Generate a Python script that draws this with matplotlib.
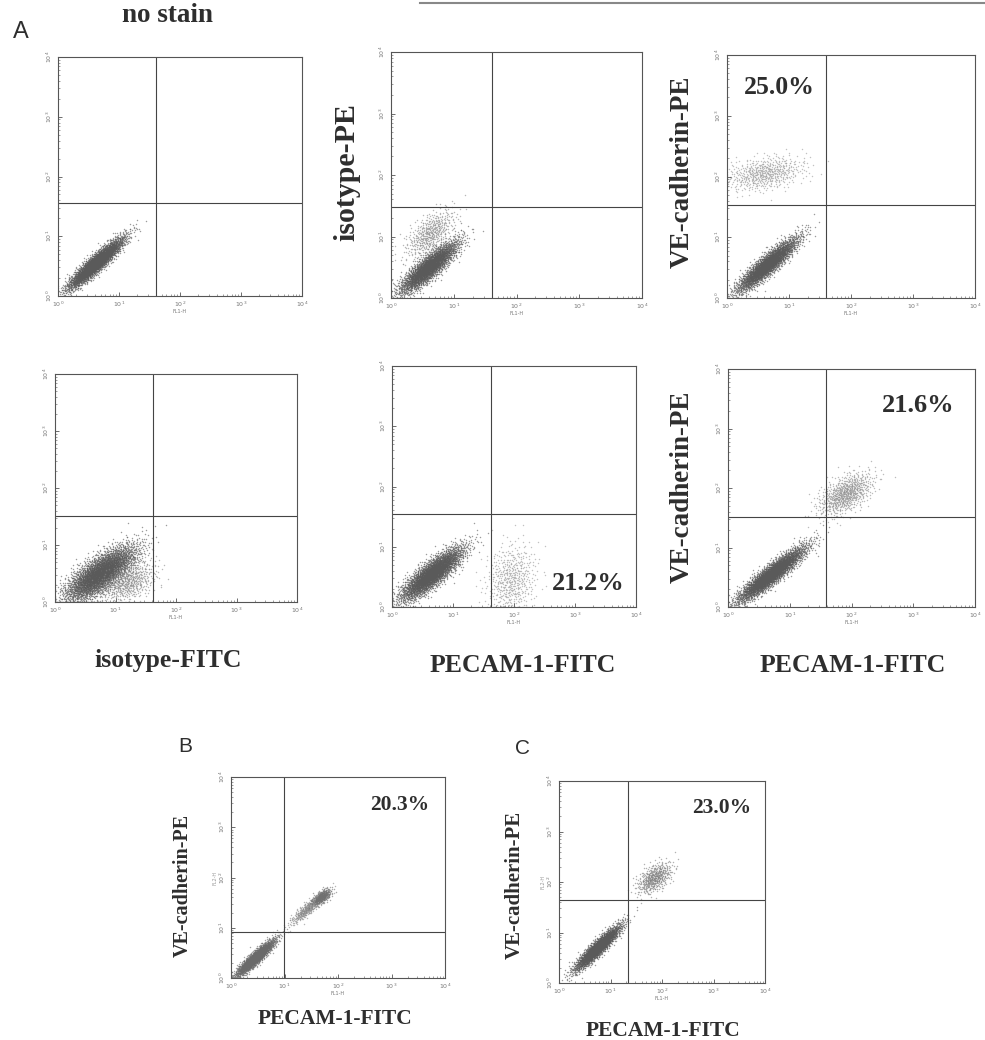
import numpy as np
import matplotlib
matplotlib.use("Agg")
from matplotlib import pyplot as plt

# panel boxes in pixels (left, top, right, bottom) of the 985x1040 figure
panel_names = ["nostain", "isoPE", "vePE", "isoFITC", "pecam", "both", "B", "C"]
panel_box = [(58, 57, 302, 296), (391, 52, 642, 298), (727, 55, 975, 298),
             (55, 374, 297, 602), (392, 366, 636, 607), (728, 369, 975, 607),
             (231, 777, 445, 978), (559, 781, 765, 983)]
# quadrant gates, in decades
gate_x = [1.61, 1.61, 1.60, 1.62, 1.62, 1.59, 0.99, 1.34]
gate_y = [1.56, 1.48, 1.53, 1.51, 1.54, 1.51, 0.92, 1.64]

# populations (decades): panel, centre, spread, tilt, events, shade
pop_panel = [0, 1, 1, 2, 2, 3, 3, 4, 4, 5, 5, 6, 6, 6, 7, 7]
pop_cx = [0.62, 0.60, 0.62, 0.65, 0.60, 0.75, 1.20, 0.65, 1.95, 0.70, 1.90, 0.45, 1.45, 1.70, 0.75, 1.85]
pop_cy = [0.55, 0.50, 1.05, 0.55, 2.05, 0.50, 0.35, 0.55, 0.45, 0.55, 1.90, 0.40, 1.40, 1.62, 0.70, 2.08]
pop_major = [0.30, 0.30, 0.25, 0.32, 0.32, 0.35, 0.25, 0.32, 0.30, 0.35, 0.25, 0.25, 0.22, 0.10, 0.30, 0.20]
pop_minor = [0.06, 0.08, 0.12, 0.07, 0.13, 0.13, 0.15, 0.09, 0.20, 0.07, 0.13, 0.05, 0.05, 0.05, 0.06, 0.11]
pop_angle = [43, 42, 45, 42, 10, 38, 30, 40, 80, 40, 35, 45, 43, 40, 45, 40]
pop_count = [3500, 3000, 500, 3000, 600, 4000, 600, 3500, 550, 3500, 800, 2200, 450, 350, 2600, 500]
pop_shade = ["#5a5a5a", "#5a5a5a", "#8a8a8a", "#5a5a5a", "#9a9a9a", "#5a5a5a", "#8a8a8a",
             "#5a5a5a", "#9a9a9a", "#5a5a5a", "#909090", "#6a6a6a", "#8a8a8a", "#707070",
             "#5a5a5a", "#808080"]

pct_text = ["", "", "25.0%", "", "21.2%", "21.6%", "20.3%", "23.0%"]
pct_pos = [None, None, (779, 87), None, (588, 583), (918, 405), (400, 805), (722, 808)]
pct_size = [0, 0, 18.5, 0, 19, 19, 15.5, 15.5]

ylab_text = ["", "isotype-PE", "VE-cadherin-PE", "", "", "VE-cadherin-PE", "VE-cadherin-PE", "VE-cadherin-PE"]
ylab_pos = [None, (347, 172), (682, 172), None, None, (682, 487), (183, 885), (515, 885)]
ylab_size = [0, 21.5, 19.5, 0, 0, 19.5, 14.5, 15]
xlab_text = ["isotype-FITC", "PECAM-1-FITC", "PECAM-1-FITC", "PECAM-1-FITC", "PECAM-1-FITC"]
xlab_pos = [(168, 660), (523, 665), (853, 665), (335, 1019), (663, 1031)]
xlab_size = [18.5, 18.5, 18.5, 15.5, 15.5]
letters = ["A", "B", "C"]
letter_pos = [(21, 32), (185, 747), (522, 748)]
letter_size = [17, 15, 15]

W, H = 985, 1040
serif = ["Liberation Serif", "DejaVu Serif"]
ink = "#2e2e2e"


def halton(n, base, start):
    out = np.zeros(n)
    for k in range(n):
        i = k + start + 1
        f = 1.0
        r = 0.0
        while i > 0:
            f /= base
            r += f * (i % base)
            i //= base
        out[k] = r
    return out


def cloud(cx, cy, major, minor, angle, n, start):
    u1 = halton(n, 2, start)
    u2 = halton(n, 3, start)
    rad = np.sqrt(-2 * np.log(np.clip(u1, 1e-9, 1)))
    a = rad * np.cos(2 * np.pi * u2) * major
    b = rad * np.sin(2 * np.pi * u2) * minor
    t = np.radians(angle)
    x = cx + a * np.cos(t) - b * np.sin(t)
    y = cy + a * np.sin(t) + b * np.cos(t)
    return np.clip(x, 0.0, 4.0), np.clip(y, 0.0, 4.0)


fig = plt.figure(figsize=(W / 100, H / 100), dpi=100)

axes = []
for p, (l, t, r, b) in enumerate(panel_box):
    ax = fig.add_axes([l / W, 1 - b / H, (r - l) / W, (b - t) / H])
    ax.set_xscale("log")
    ax.set_yscale("log")
    ax.set_xlim(1, 1e4)
    ax.set_ylim(1, 1e4)
    ax.set_xticks([1, 10, 100, 1000, 10000])
    ax.set_yticks([1, 10, 100, 1000, 10000])
    ax.set_xticklabels([r"$10^{%d}$" % k for k in range(5)])
    ax.set_yticklabels([r"$10^{%d}$" % k for k in range(5)], rotation=90, va="center")
    ax.tick_params(which="major", direction="in", length=3, width=0.6, labelsize=4.5,
                   labelcolor="#777777", color="#555555", pad=3)
    ax.tick_params(which="minor", direction="in", length=1.5, width=0.5, color="#777777")
    for s in ax.spines.values():
        s.set_linewidth(0.8)
        s.set_color("#555555")
    ax.set_xlabel("FL1-H", fontsize=3.5, color="#777777", labelpad=0)
    if p >= 6:
        ax.set_ylabel("FL2-H", fontsize=3.5, color="#999999", labelpad=0)
    ax.axvline(10 ** gate_x[p], color="#444444", lw=0.8)
    ax.axhline(10 ** gate_y[p], color="#444444", lw=0.8)
    axes.append(ax)

start = 0
for i in range(len(pop_panel)):
    x, y = cloud(pop_cx[i], pop_cy[i], pop_major[i], pop_minor[i], pop_angle[i],
                 pop_count[i], start)
    start += pop_count[i] + 37
    axes[pop_panel[i]].scatter(10 ** x, 10 ** y, s=1.1, c=pop_shade[i], linewidths=0,
                               alpha=0.6, zorder=1)

for p in range(len(panel_box)):
    if pct_text[p]:
        fig.text(pct_pos[p][0] / W, 1 - pct_pos[p][1] / H, pct_text[p], family=serif,
                 fontweight="bold", fontsize=pct_size[p], color=ink,
                 ha="center", va="center")
    if ylab_text[p]:
        fig.text(ylab_pos[p][0] / W, 1 - ylab_pos[p][1] / H, ylab_text[p], family=serif,
                 fontweight="bold", fontsize=ylab_size[p], color=ink, rotation=90,
                 ha="center", va="center")

for lbl, pos, fs in zip(xlab_text, xlab_pos, xlab_size):
    fig.text(pos[0] / W, 1 - pos[1] / H, lbl, family=serif, fontweight="bold",
             fontsize=fs, color=ink, ha="center", va="center")

fig.text(167 / W, 1 - 15 / H, "no stain", family=serif, fontweight="bold", fontsize=19.5,
         color=ink, ha="center", va="center")
for lbl, pos, fs in zip(letters, letter_pos, letter_size):
    fig.text(pos[0] / W, 1 - pos[1] / H, lbl, family=["Liberation Sans", "DejaVu Sans"],
             fontsize=fs, color=ink, ha="center", va="center")

# cropped rule along the top edge of the scan
fig.add_artist(plt.Line2D([420 / W, 1.0], [1 - 3 / H, 1 - 3 / H], color="#888888", lw=1.5))

fig.savefig("out.png", dpi=100)
